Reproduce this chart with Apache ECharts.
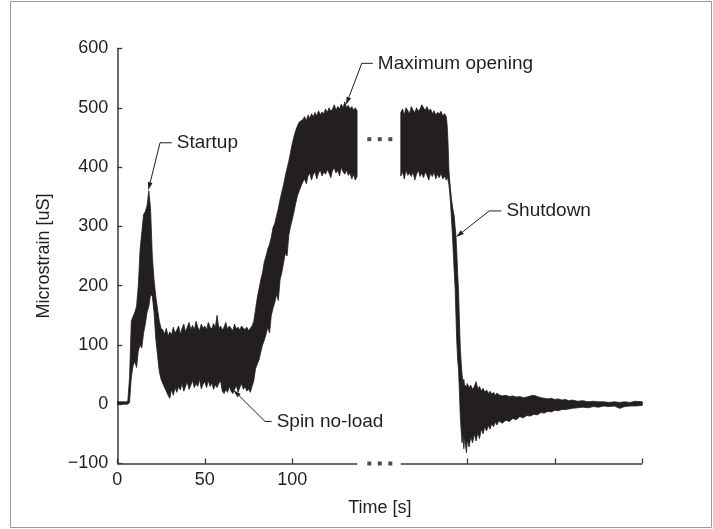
<!DOCTYPE html>
<html><head><meta charset="utf-8">
<script src="https://cdn.jsdelivr.net/npm/echarts@6/dist/echarts.min.js"></script>
<style>html,body{margin:0;padding:0;background:#fff}#c{width:713px;height:529px}</style>
</head><body><div id="c"></div>
<script>
// ---------- data (envelope of the dense strain signal) ----------
// Segment A: 0 .. 137 s (1 s steps)
const timeA = Array.from({length:138}, (_, i) => i);
const upperA = [4,4,4,4,4,4,5,
  45,140,148,155,165,200,260,290,320,325,335,360,330,250,210,182,160,140,128,
  125,118,128,115,122,117,130,120,125,132,118,128,135,122,130,138,126,133,125,140,130,124,135,128,132,125,138,130,127,136,129,150,128,132,125,130,138,126,132,128,124,135,127,130,125,132,128,126,130,124,128,132,
  140,160,180,195,210,222,240,250,262,270,282,298,305,318,330,345,358,370,385,398,410,425,440,452,462,470,476,478,480,
  485,478,488,482,490,485,492,486,495,488,493,490,498,492,500,494,498,505,496,502,498,506,500,510,500,504,498,502,496,500,495];
const lowerA = [0,0,0,0,0,0,0,
  3,45,65,72,62,90,100,95,120,135,155,165,185,182,155,110,82,55,42,
  35,28,22,15,10,25,15,28,20,30,24,35,22,30,38,25,32,40,28,35,30,42,26,34,38,28,40,30,36,25,33,28,35,40,22,18,25,20,30,22,18,25,32,20,28,35,25,30,22,26,20,30,
  40,60,68,75,88,100,108,118,130,120,150,162,172,185,175,210,222,238,255,250,285,300,312,325,340,352,360,368,375,
  380,372,385,390,378,388,392,380,390,395,385,392,388,396,390,382,395,398,390,395,385,400,392,388,395,386,390,380,388,378,384];

// Segment B: 162 .. 300 s
const timeB = [162,163,164,165,166,167,168,169,170,171,172,173,174,175,176,177,178,179,180,181,182,183,184,185,186,187,188,
  188.5,189,189.5,190,190.5,191,191.5,192,192.5,193,193.5,194,194.5,195,195.5,196,196.5,197,197.5,198,198.5,199,199.5,
  200,201,202,203,204,205,206,207,208,209,210,211,212,213,214,215,216,217,218,
  220,222,224,226,228,230,232,234,236,238,240,242,244,246,248,250,252,254,256,258,260,
  263,266,269,272,275,278,281,284,287,290,293,296,300];
const upperB = [492,498,488,500,495,490,502,496,492,500,494,498,505,500,496,502,494,498,490,495,488,492,490,494,486,490,485,
  470,440,395,375,360,345,335,325,318,300,285,255,220,190,140,95,70,50,38,42,30,32,28,
  35,28,32,25,30,38,26,30,22,27,20,24,18,22,17,20,15,19,16,
  14,15,13,14,12,13,11,12,14,15,13,11,10,9,10,8,9,7,8,6,7,
  5,6,4,5,4,4,3,4,3,4,3,5,4];
const lowerB = [385,392,380,395,386,390,384,392,378,388,395,384,390,382,392,386,378,390,384,392,380,388,382,390,380,385,378,
  385,378,370,355,335,311,285,255,225,198,150,105,75,58,20,-20,-45,-65,-50,-75,-55,-70,-82,
  -60,-72,-55,-65,-50,-62,-48,-58,-42,-50,-38,-45,-36,-42,-33,-38,-30,-35,-28,
  -32,-27,-29,-24,-26,-21,-23,-19,-20,-17,-18,-14,-15,-12,-13,-10,-11,-9,-9,-8,-7,
  -6,-5,-6,-4,-5,-3,-4,-3,-7,-4,-3,-3,-2];

// axis
const xTickValues = [0,50,100,200,250,300];
const xLabelValues = [0,50,100];
const axisSegments = [[0,137],[162,300]];      // x axis line drawn in two parts (break)
const breakDotTimes = [144,150,156];
const breakDotLevels = [-100,447];

// annotations: arrow tip, elbow, end of leader (data units)
const annotations = [
  {text:'Startup',         tip:[17.7,361], elbow:[24.4,441], end:[31.1,441]},
  {text:'Maximum opening', tip:[130.7,505], elbow:[139.7,575], end:[146,575]},
  {text:'Shutdown',        tip:[193.6,282], elbow:[212.5,326], end:[219.5,326]},
  {text:'Spin no-load',    tip:[66.3,24],  elbow:[84.4,-29], end:[88.2,-29]}
];

// ---------- chart ----------
const DARK = '#231f20';
const AX = '#3a3a3a';
const FONT = '"Liberation Sans", Arial, Helvetica, sans-serif';

const segments = [
  {time:timeA, upper:upperA, lower:lowerA},
  {time:timeB, upper:upperB, lower:lowerB}
];

const dots = [];
breakDotLevels.forEach(v => breakDotTimes.forEach(t => dots.push([t, v])));

const minus = v => String(v).replace('-', '\u2212');

const chart = echarts.init(document.getElementById('c'));
chart.setOption({
  animation:false,
  backgroundColor:'#fff',
  textStyle:{fontFamily:FONT},
  grid:{left:117.3, right:70.7, top:48.5, bottom:65.5, containLabel:false},
  xAxis:{
    type:'value', min:0, max:300, interval:50,
    name:'Time [s]', nameLocation:'middle', nameGap:36,
    nameTextStyle:{fontSize:18, color:DARK, fontFamily:FONT},
    axisLine:{show:false, onZero:false},
    axisTick:{show:true, inside:true, length:5, customValues:xTickValues, lineStyle:{color:AX, width:1.3}},
    axisLabel:{customValues:xLabelValues, fontSize:18, color:DARK, margin:8, fontFamily:FONT},
    splitLine:{show:false}
  },
  yAxis:{
    type:'value', min:-100, max:600, interval:100,
    name:'Microstrain [uS]', nameLocation:'middle', nameGap:64,
    nameTextStyle:{fontSize:18, color:DARK, fontFamily:FONT},
    axisLine:{show:true, onZero:false, lineStyle:{color:AX, width:1.5}},
    axisTick:{show:true, inside:true, length:5, lineStyle:{color:AX, width:1.3}},
    axisLabel:{fontSize:18, color:DARK, margin:9, fontFamily:FONT, formatter:minus},
    splitLine:{show:false}
  },
  graphic:[{type:'rect', silent:true, shape:{x:10.5, y:1.5, width:701, height:526},
            style:{fill:null, stroke:'#9a9a9a', lineWidth:1}}],
  series:[
    {type:'custom', name:'strain', silent:true, z:3, clip:true,
     data: segments.map((s, i) => [s.time[0], s.lower[0], i]), encode:{x:0, y:1},
     renderItem:function(params, api){
       const s = segments[params.dataIndex];
       const pts = [];
       for (let i = 0; i < s.time.length; i++) pts.push(api.coord([s.time[i], s.upper[i]]));
       for (let i = s.time.length - 1; i >= 0; i--) pts.push(api.coord([s.time[i], s.lower[i]]));
       return {type:'polygon', shape:{points:pts}, style:{fill:DARK, stroke:DARK, lineWidth:0.8, lineJoin:'miter'}};
     }},
    {type:'scatter', data:dots, symbol:'rect', symbolSize:4, itemStyle:{color:DARK}, silent:true, clip:false, z:4,
     markLine:{silent:true, symbol:['none','none'], label:{show:false},
       lineStyle:{color:AX, width:1.5, type:'solid'},
       data: axisSegments.map(s => [{coord:[s[0],-100]},{coord:[s[1],-100]}])}},
    {type:'custom', data: annotations.map(a => [a.tip[0], a.tip[1]]), encode:{x:0, y:1}, silent:true, z:5, clip:false,
     renderItem:function(params, api){
       const a = annotations[params.dataIndex];
       const p0 = api.coord(a.tip), p1 = api.coord(a.elbow), p2 = api.coord(a.end);
       const dx = p0[0]-p1[0], dy = p0[1]-p1[1], len = Math.hypot(dx,dy);
       const ux = dx/len, uy = dy/len, L = 8, W = 2.4;
       const base = [p0[0]-ux*L, p0[1]-uy*L];
       const l = [base[0]-uy*W, base[1]+ux*W], r = [base[0]+uy*W, base[1]-ux*W];
       return {type:'group', children:[
         {type:'polyline', shape:{points:[base, p1, p2]}, style:{stroke:DARK, lineWidth:1, fill:null}},
         {type:'polygon', shape:{points:[p0, l, r]}, style:{fill:DARK}},
         {type:'text', x:p2[0]+5, y:p2[1], style:{text:a.text, fill:DARK, font:'19px '+FONT, verticalAlign:'middle', align:'left'}}
       ]};
     }}
  ]
});
</script></body></html>
